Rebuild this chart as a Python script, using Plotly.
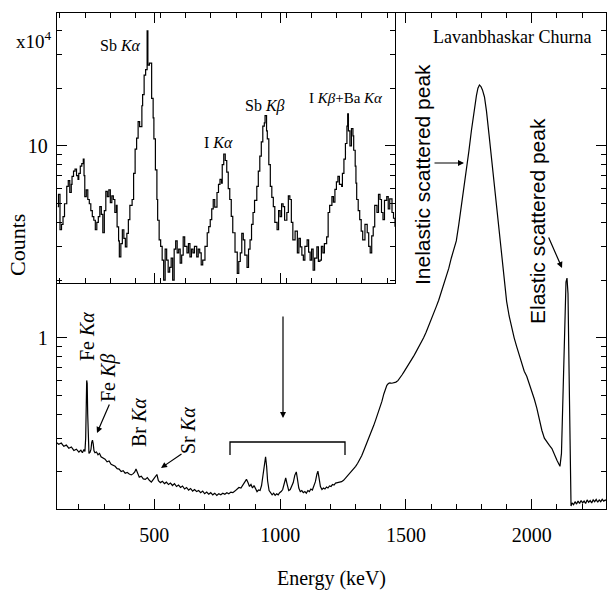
import plotly.graph_objects as go

# ---------------- data ----------------
energy_main = [110,120,130,140,150,160,170,180,190,200,208,214,220,224,227,229,231,233,235,237,240,244,248,251,254,257,260,264,270,276,282,288,296,304,312,320,328,336,344,352,360,368,376,384,392,400,408,416,422,427,432,440,448,456,464,472,480,488,496,504,510,516,524,532,540,548,556,564,572,580,588,596,604,612,620,628,636,644,652,660,668,676,684,692,700,708,716,724,732,740,748,756,764,772,780,788,796,804,812,820,828,836,844,852,860,866,872,878,884,890,896,902,908,914,920,926,932,938,942,946,950,956,962,968,974,980,986,992,998,1004,1010,1016,1022,1028,1034,1040,1046,1052,1058,1064,1068,1074,1080,1086,1092,1098,1104,1110,1116,1122,1128,1134,1140,1146,1150,1154,1160,1166,1172,1178,1184,1190,1196,1202,1208,1214,1220,1228,1236,1244,1252,1260,1268,1276,1284,1292,1300,1308,1316,1324,1332,1340,1348,1356,1364,1372,1380,1388,1396,1404,1412,1418,1424,1430,1436,1444,1452,1460,1468,1476,1484,1492,1500,1510,1520,1530,1540,1550,1560,1570,1580,1590,1600,1610,1620,1630,1640,1650,1660,1670,1680,1690,1700,1710,1720,1730,1740,1750,1760,1770,1780,1786,1792,1798,1804,1812,1820,1830,1840,1850,1860,1870,1880,1890,1900,1910,1920,1930,1940,1950,1960,1970,1980,1990,2000,2010,2020,2030,2040,2050,2060,2070,2080,2090,2100,2106,2112,2118,2124,2130,2136,2140,2144,2148,2152,2156,2160,2166,2172,2178,2184,2190,2196,2202,2208,2214,2220,2226,2232,2238,2244,2250,2256,2262,2268,2274,2280,2286,2292,2300]
counts_main = [0.285,0.279,0.283,0.272,0.276,0.266,0.270,0.259,0.263,0.254,0.260,0.252,0.262,0.256,0.300,0.45,0.60,0.58,0.40,0.27,0.250,0.253,0.262,0.285,0.293,0.280,0.258,0.252,0.254,0.246,0.250,0.240,0.236,0.233,0.226,0.228,0.219,0.216,0.214,0.208,0.207,0.201,0.203,0.197,0.199,0.195,0.193,0.196,0.200,0.207,0.198,0.188,0.190,0.184,0.183,0.187,0.181,0.177,0.183,0.190,0.194,0.180,0.176,0.179,0.174,0.177,0.172,0.175,0.170,0.174,0.168,0.171,0.166,0.169,0.163,0.166,0.161,0.164,0.159,0.162,0.158,0.160,0.156,0.159,0.154,0.157,0.153,0.156,0.152,0.155,0.151,0.154,0.152,0.155,0.153,0.156,0.154,0.157,0.156,0.159,0.162,0.166,0.165,0.171,0.178,0.183,0.176,0.168,0.172,0.165,0.170,0.162,0.158,0.161,0.160,0.170,0.195,0.228,0.240,0.215,0.180,0.160,0.156,0.152,0.155,0.151,0.154,0.152,0.156,0.158,0.162,0.172,0.186,0.172,0.160,0.162,0.168,0.176,0.192,0.200,0.186,0.165,0.158,0.160,0.156,0.158,0.155,0.160,0.158,0.163,0.161,0.168,0.178,0.195,0.202,0.188,0.168,0.162,0.165,0.163,0.167,0.165,0.169,0.168,0.172,0.171,0.175,0.176,0.177,0.178,0.181,0.186,0.190,0.195,0.200,0.207,0.214,0.222,0.231,0.243,0.258,0.273,0.290,0.310,0.330,0.350,0.375,0.400,0.430,0.465,0.510,0.540,0.565,0.578,0.582,0.580,0.583,0.588,0.598,0.615,0.640,0.665,0.690,0.725,0.760,0.800,0.845,0.890,0.940,1.00,1.07,1.15,1.24,1.34,1.45,1.57,1.72,1.88,2.07,2.30,2.60,2.90,3.20,3.90,4.80,6.00,7.50,9.40,12.0,15.0,18.3,20.0,20.8,20.4,19.6,18.0,15.2,11.5,8.6,6.6,4.9,3.6,2.6,1.95,1.55,1.30,1.12,1.00,0.90,0.81,0.74,0.67,0.63,0.58,0.53,0.48,0.43,0.37,0.33,0.30,0.285,0.275,0.265,0.245,0.230,0.222,0.214,0.25,0.55,1.30,1.95,2.05,1.70,0.70,0.20,0.133,0.138,0.135,0.140,0.136,0.141,0.137,0.142,0.138,0.141,0.137,0.143,0.139,0.142,0.138,0.143,0.140,0.144,0.139,0.143,0.140,0.144,0.141,0.143,0.140]

energy_inset = [801,802,804,806,808,810,813,815,817,819,820,822,824,826,828,829,831,833,835,836,837,839,841,843,845,847,849,851,853,855,857,859,861,863,865,867,869,871,873,875,877,879,880,882,883,885,887,889,891,893,895,897,900,902,904,906,908,910,913,914,916,918,920,921,923,926,928,929,931,933,934,936,938,940,942,944,946,948,950,952,954,956,958,960,962,964,966,968,970,973,975,977,979,981,983,986,988,990,992,994,997,1000,1002,1004,1006,1008,1010,1013,1015,1017,1019,1020,1022,1024,1026,1028,1030,1032,1034,1037,1040,1042,1044,1046,1048,1050,1053,1055,1057,1059,1061,1063,1066,1068,1070,1072,1074,1076,1077,1079,1080,1082,1084,1086,1088,1090,1093,1095,1097,1099,1101,1103,1106,1108,1110,1112,1114,1117,1120,1122,1124,1126,1128,1130,1133,1135,1137,1139,1141,1143,1146,1148,1150,1152,1154,1156,1159,1161,1163,1166,1168,1170,1172,1174,1176,1179,1180,1182,1184,1186,1187,1188,1190,1192,1194,1195,1197,1198,1199,1201,1203,1205,1207,1210,1213,1215,1217,1219,1221,1223,1226,1228,1230,1232,1234,1236,1239,1241,1243,1246,1248,1250]
counts_inset = [4.83,5.6,3.66,3.9,4.28,5.0,6.16,6.6,5.72,6.3,6.95,7.4,7.57,7.0,6.70,7.2,7.85,8.1,8.54,7.0,5.45,5.9,5.26,5.0,4.6,4.28,4.1,3.66,4.0,4.28,4.83,4.4,3.53,4.6,5.8,5.45,5.9,5.07,5.5,5.26,4.5,4.9,3.79,3.2,2.64,3.1,3.66,3.3,2.98,3.5,4.13,4.9,5.26,7.2,9.64,11.0,13.4,12.6,16.2,18.5,23.4,25.0,39.8,26.4,27.0,17.7,14.0,10.9,7.5,5.26,4.1,3.24,3.0,2.54,2.0,2.9,2.54,2.2,2.33,2.6,2.0,2.9,3.2,2.77,2.9,2.45,2.7,3.36,3.0,2.77,3.1,2.64,2.9,2.77,3.0,2.64,2.9,2.77,2.4,2.54,3.0,3.53,3.8,4.13,4.7,5.26,4.8,5.72,6.3,6.70,6.4,8.0,9.08,8.4,7.30,6.0,5.26,4.3,3.53,2.8,2.17,2.5,2.77,3.5,3.24,2.7,2.33,2.9,3.24,3.9,4.50,5.2,6.16,7.4,8.86,10.5,12.7,13.2,14.4,12.0,10.9,8.0,6.16,5.4,4.83,4.0,3.66,4.6,4.28,5.0,4.83,4.1,4.50,5.5,5.26,4.0,3.24,3.6,2.77,3.3,2.98,2.7,2.54,3.0,3.24,2.8,2.54,2.9,2.25,2.6,2.98,2.5,2.54,3.0,2.77,3.1,3.36,4.50,4.9,5.45,5.1,5.94,6.5,6.95,6.3,6.16,7.2,8.54,10.3,12.7,14.7,12.0,10.0,12.3,11.3,9.5,7.85,6.4,5.26,4.6,4.13,3.6,3.24,3.9,3.53,3.0,2.77,3.4,3.79,4.9,4.50,5.6,5.26,4.5,4.13,5.2,5.45,4.7,5.3,4.50,4.2,3.79]

# ---------------- layout geometry ----------------
W, H = 607, 600
ML, MR, MT, MB = 57, 1, 13, 91
PW, PH = W - ML - MR, H - MT - MB
main_x_range = [113, 2295]
main_y_range = [-0.892, 1.693]          # log10
inset_x_range = [800, 1250]
inset_x_dom = [0, 338 / PW]
inset_y_dom = [(H - MB - 283) / PH, 1]
inset_y_range = [main_y_range[1] - (main_y_range[1] - main_y_range[0]) * (1 - inset_y_dom[0]), main_y_range[1]]

# inset ticks aligned with the main axis tick positions
mpx = PW / (main_x_range[1] - main_x_range[0])
ipx = (PW * inset_x_dom[1]) / (inset_x_range[1] - inset_x_range[0])
def m2i(k):
    return inset_x_range[0] + (k - main_x_range[0]) * mpx / ipx

SERIF = "Liberation Serif"
SANS = "Liberation Sans"

def PX(px):
    return (px - ML) / PW
def PY(py):
    return (H - MB - py) / PH

fig = go.Figure()
fig.add_trace(go.Scatter(x=energy_main, y=counts_main, mode="lines",
                         line=dict(color="black", width=1.2), xaxis="x", yaxis="y",
                         showlegend=False))
fig.add_trace(go.Scatter(x=energy_inset, y=counts_inset, mode="lines",
                         line=dict(color="black", width=1.2, shape="hv"), xaxis="x2", yaxis="y2",
                         showlegend=False))

axcommon = dict(showline=True, linecolor="black", linewidth=1.3, ticks="inside",
                tickcolor="black", tickwidth=1.2, showgrid=False, zeroline=False,
                mirror="ticks")

fig.update_layout(
    width=W, height=H,
    margin=dict(l=ML, r=MR, t=MT, b=MB),
    paper_bgcolor="white", plot_bgcolor="white",
    font=dict(family=SERIF, color="black", size=20),
    xaxis=dict(domain=[0, 1], range=main_x_range, dtick=500, tick0=0, ticklen=10,
               minor=dict(dtick=100, ticks="inside", ticklen=5, tickcolor="black", showgrid=False),
               tickfont=dict(family=SERIF, size=20), ticklabelstandoff=8, **axcommon),
    yaxis=dict(domain=[0, 1], type="log", range=main_y_range, dtick=1, ticklen=10,
               minor=dict(ticks="inside", ticklen=5, tickcolor="black", showgrid=False),
               tickfont=dict(family=SERIF, size=20), ticklabelstandoff=4, **axcommon),
    xaxis2=dict(domain=inset_x_dom, anchor="y2", range=inset_x_range,
                tick0=m2i(500), dtick=m2i(1000) - m2i(500), ticklen=10,
                minor=dict(dtick=m2i(600) - m2i(500), ticks="inside", ticklen=5, tickcolor="black", showgrid=False),
                showticklabels=False, **axcommon),
    yaxis2=dict(domain=inset_y_dom, anchor="x2", type="log", range=inset_y_range, dtick=1,
                ticklen=10, minor=dict(ticks="inside", ticklen=5, tickcolor="black", showgrid=False),
                showticklabels=False, **axcommon),
)

ann = []
def txt(t, px, py, size, family=SERIF, angle=0):
    ann.append(dict(text=t, x=PX(px), y=PY(py), xref="paper", yref="paper",
                    showarrow=False, textangle=angle, xanchor="center", yanchor="middle",
                    font=dict(family=family, size=size, color="black")))
def arrow(hx, hy, tx, ty):
    ann.append(dict(text="", x=PX(hx), y=PY(hy), xref="paper", yref="paper",
                    showarrow=True, ax=tx - hx, ay=ty - hy, arrowhead=2, arrowsize=1,
                    arrowwidth=1.2, arrowcolor="black"))

txt("Sb <i>Kα</i>", 120, 45, 16)
txt("I <i>Kα</i>", 218, 142, 16)
txt("Sb <i>Kβ</i>", 265, 106, 16)
txt("I <i>Kβ</i>+Ba <i>Kα</i>", 346, 98, 15)
txt("x10<sup>4</sup>", 34, 40, 19)
txt("Lavanbhaskar Churna", 512, 37, 18)
txt("Inelastic scattered peak", 422, 175, 21, SANS, -90)
txt("Elastic scattered peak", 538, 221, 21, SANS, -90)
txt("Fe <i>Kα</i>", 87, 337, 20, SERIF, -90)
txt("Fe <i>Kβ</i>", 108, 378, 20, SERIF, -90)
txt("Br <i>Kα</i>", 139, 423, 20, SERIF, -90)
txt("Sr <i>Kα</i>", 188, 431, 20, SERIF, -90)
txt("Counts", 17, 245, 22, SERIF, -90)
txt("Energy (keV)", 331, 578, 20)

arrow(464, 163, 433, 163)
arrow(562, 268, 548, 236)
arrow(97, 433, 110, 403)
arrow(161, 468, 183, 453)
arrow(283, 418, 283, 315)

fig.update_layout(annotations=ann)
fig.add_shape(type="path", xref="paper", yref="paper",
              path=f"M {PX(230)},{PY(455)} L {PX(230)},{PY(442)} L {PX(345)},{PY(442)} L {PX(345)},{PY(455)}",
              line=dict(color="black", width=1.3))

fig.write_html("out.html")
